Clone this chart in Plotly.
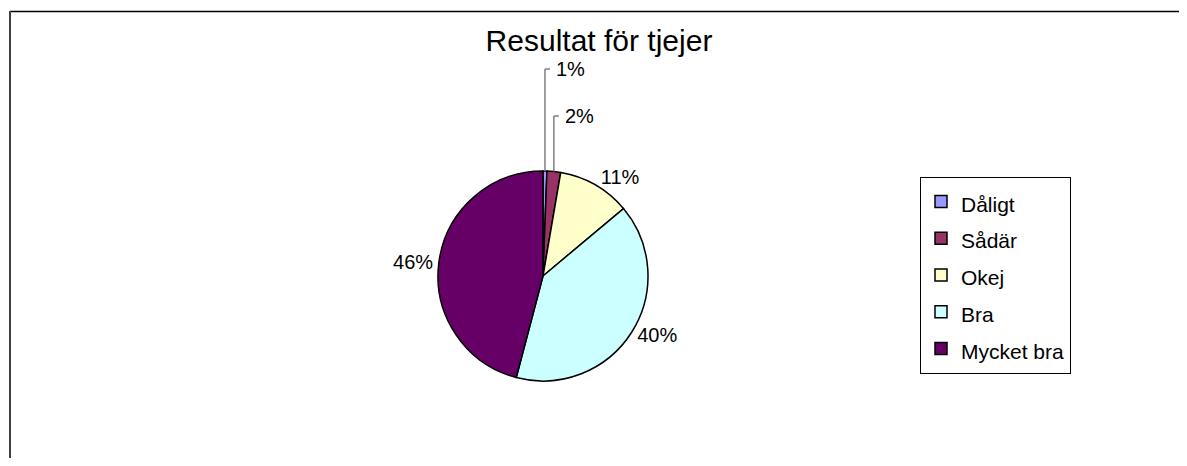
import math
import plotly.graph_objects as go

# ---- data ----
categories = ["Dåligt", "Sådär", "Okej", "Bra", "Mycket bra"]
values = [0.6, 2.1, 11.2, 40.2, 45.9]
colors = ["#9999FF", "#993366", "#FFFFCC", "#CCFFFF", "#660066"]
title_text = "Resultat för tjejer"

# ---- layout constants (pixel positions measured in the 1187x466 page) ----
OFF = 8                              # default page body margin
W, H = 1187 - 2 * OFF, 466 - 2 * OFF
CX, CY, R = 543 - OFF, 276 - OFF, 105
FONT = "Liberation Sans, Arial, sans-serif"
small_label_y = [69 - OFF, 116 - OFF]  # heights of the leader-line labels for tiny slices


def px2x(p):
    return p / W


def px2y(p):
    return 1 - p / H


total = sum(values)
is_small = [v / total < 0.03 for v in values]
textpos = ["none" if s else "outside" for s in is_small]

# legend labels: real legend font sets row spacing, span sets visible size
legend_labels = [f"<span style='font-size:21px'>{c}</span>" for c in categories]

fig = go.Figure(go.Pie(
    labels=legend_labels,
    values=values,
    sort=False,
    direction="clockwise",
    rotation=0,
    marker=dict(colors=colors, line=dict(color="black", width=1.5)),
    texttemplate="%{percent:.0%}",
    textposition=textpos,
    outsidetextfont=dict(family=FONT, size=20, color="black"),
    hoverinfo="label+percent",
    domain=dict(x=[px2x(CX - R), px2x(CX + R)], y=[px2y(CY + R), px2y(CY - R)]),
))

# leader lines + labels for tiny slices (positions derived from slice angles)
shapes = []
annotations = []
cum = 0.0
k = 0
for v, s in zip(values, is_small):
    mid = (cum + v / 2) / total * 2 * math.pi
    cum += v
    if not s:
        continue
    px = CX + R * math.sin(mid)
    py_edge = CY - R * math.cos(mid)
    ly = small_label_y[k]
    k += 1
    shapes.append(dict(type="line", xref="paper", yref="paper",
                       x0=px2x(px), x1=px2x(px), y0=px2y(py_edge), y1=px2y(ly),
                       line=dict(color="#808080", width=1.5)))
    shapes.append(dict(type="line", xref="paper", yref="paper",
                       x0=px2x(px), x1=px2x(px + 5), y0=px2y(ly), y1=px2y(ly),
                       line=dict(color="#808080", width=1.5)))
    annotations.append(dict(xref="paper", yref="paper", x=px2x(px + 9), y=px2y(ly),
                            xanchor="left", yanchor="middle", showarrow=False,
                            text=f"{round(100 * v / total)}%",
                            font=dict(family=FONT, size=20, color="black")))

# chart frame (top and left edges visible)
shapes.append(dict(type="line", xref="paper", yref="paper",
                   x0=px2x(10 - OFF), x1=1.02, y0=px2y(11.5 - OFF), y1=px2y(11.5 - OFF),
                   line=dict(color="black", width=1.5)))
shapes.append(dict(type="line", xref="paper", yref="paper",
                   x0=px2x(10 - OFF), x1=px2x(10 - OFF), y0=px2y(11 - OFF), y1=-0.05,
                   line=dict(color="#404040", width=2)))

fig.update_layout(
    width=W, height=H,
    margin=dict(l=0, r=0, t=0, b=0),
    paper_bgcolor="white",
    plot_bgcolor="white",
    font=dict(family=FONT, color="black"),
    title=dict(text=title_text, x=px2x(599 - OFF), xanchor="center", y=px2y(40 - OFF), yanchor="middle",
               font=dict(family=FONT, size=30, color="black")),
    legend=dict(x=px2x(920 - OFF), y=px2y(177 - OFF), xanchor="left", yanchor="top",
                bordercolor="black", borderwidth=1, bgcolor="white",
                font=dict(family=FONT, size=26, color="black"),
                itemwidth=30, traceorder="normal"),
    shapes=shapes,
    annotations=annotations,
)

fig.write_html("out.html")
